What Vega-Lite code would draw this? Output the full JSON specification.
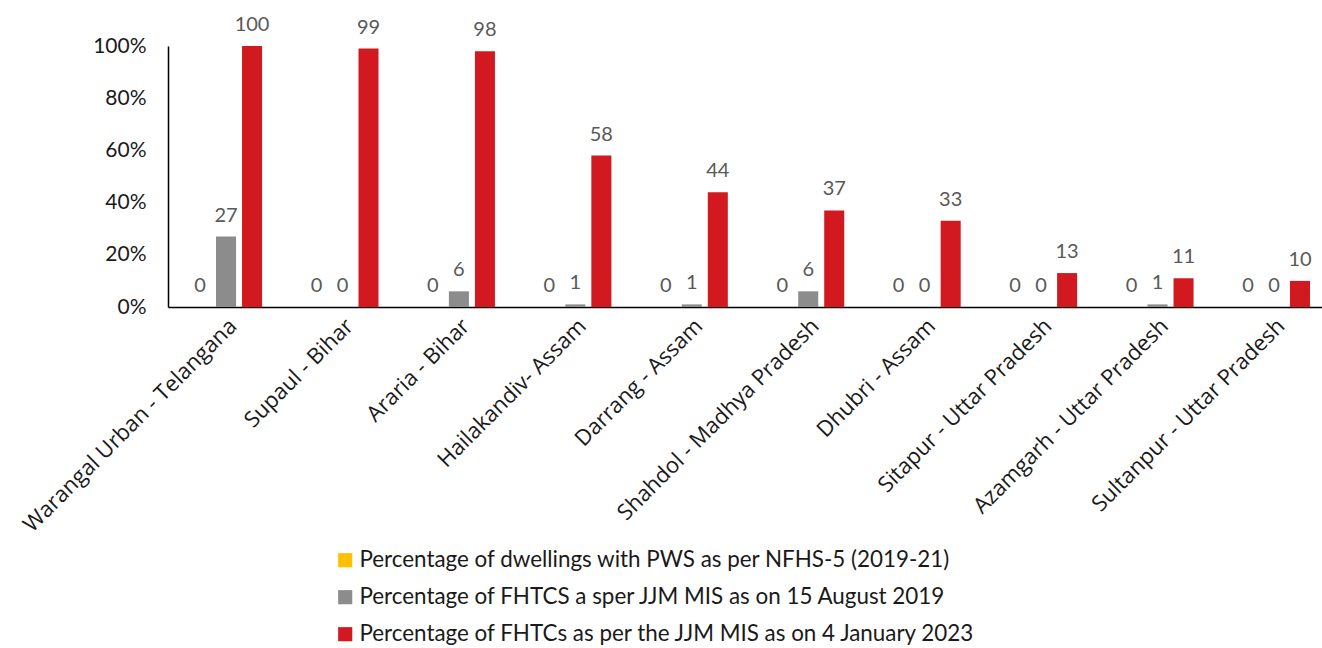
{
  "$schema": "https://vega.github.io/schema/vega-lite/v6.json",
  "autosize": {"type": "none"},
  "width": 1154,
  "height": 261,
  "padding": {"left": 168, "top": 46, "right": 0, "bottom": 341},
  "background": "white",
  "view": {"stroke": null},
  "data": {
    "values": [
      {"district": "Warangal Urban - Telangana", "series": "Percentage of dwellings with PWS as per NFHS-5 (2019-21)", "value": 0},
      {"district": "Warangal Urban - Telangana", "series": "Percentage of FHTCS a sper JJM MIS as on 15 August 2019", "value": 27},
      {"district": "Warangal Urban - Telangana", "series": "Percentage of FHTCs as per the JJM MIS as on 4 January 2023", "value": 100},
      {"district": "Supaul - Bihar", "series": "Percentage of dwellings with PWS as per NFHS-5 (2019-21)", "value": 0},
      {"district": "Supaul - Bihar", "series": "Percentage of FHTCS a sper JJM MIS as on 15 August 2019", "value": 0},
      {"district": "Supaul - Bihar", "series": "Percentage of FHTCs as per the JJM MIS as on 4 January 2023", "value": 99},
      {"district": "Araria - Bihar", "series": "Percentage of dwellings with PWS as per NFHS-5 (2019-21)", "value": 0},
      {"district": "Araria - Bihar", "series": "Percentage of FHTCS a sper JJM MIS as on 15 August 2019", "value": 6},
      {"district": "Araria - Bihar", "series": "Percentage of FHTCs as per the JJM MIS as on 4 January 2023", "value": 98},
      {"district": "Hailakandiv- Assam", "series": "Percentage of dwellings with PWS as per NFHS-5 (2019-21)", "value": 0},
      {"district": "Hailakandiv- Assam", "series": "Percentage of FHTCS a sper JJM MIS as on 15 August 2019", "value": 1},
      {"district": "Hailakandiv- Assam", "series": "Percentage of FHTCs as per the JJM MIS as on 4 January 2023", "value": 58},
      {"district": "Darrang - Assam", "series": "Percentage of dwellings with PWS as per NFHS-5 (2019-21)", "value": 0},
      {"district": "Darrang - Assam", "series": "Percentage of FHTCS a sper JJM MIS as on 15 August 2019", "value": 1},
      {"district": "Darrang - Assam", "series": "Percentage of FHTCs as per the JJM MIS as on 4 January 2023", "value": 44},
      {"district": "Shahdol - Madhya Pradesh", "series": "Percentage of dwellings with PWS as per NFHS-5 (2019-21)", "value": 0},
      {"district": "Shahdol - Madhya Pradesh", "series": "Percentage of FHTCS a sper JJM MIS as on 15 August 2019", "value": 6},
      {"district": "Shahdol - Madhya Pradesh", "series": "Percentage of FHTCs as per the JJM MIS as on 4 January 2023", "value": 37},
      {"district": "Dhubri - Assam", "series": "Percentage of dwellings with PWS as per NFHS-5 (2019-21)", "value": 0},
      {"district": "Dhubri - Assam", "series": "Percentage of FHTCS a sper JJM MIS as on 15 August 2019", "value": 0},
      {"district": "Dhubri - Assam", "series": "Percentage of FHTCs as per the JJM MIS as on 4 January 2023", "value": 33},
      {"district": "Sitapur - Uttar Pradesh", "series": "Percentage of dwellings with PWS as per NFHS-5 (2019-21)", "value": 0},
      {"district": "Sitapur - Uttar Pradesh", "series": "Percentage of FHTCS a sper JJM MIS as on 15 August 2019", "value": 0},
      {"district": "Sitapur - Uttar Pradesh", "series": "Percentage of FHTCs as per the JJM MIS as on 4 January 2023", "value": 13},
      {"district": "Azamgarh - Uttar Pradesh", "series": "Percentage of dwellings with PWS as per NFHS-5 (2019-21)", "value": 0},
      {"district": "Azamgarh - Uttar Pradesh", "series": "Percentage of FHTCS a sper JJM MIS as on 15 August 2019", "value": 1},
      {"district": "Azamgarh - Uttar Pradesh", "series": "Percentage of FHTCs as per the JJM MIS as on 4 January 2023", "value": 11},
      {"district": "Sultanpur - Uttar Pradesh", "series": "Percentage of dwellings with PWS as per NFHS-5 (2019-21)", "value": 0},
      {"district": "Sultanpur - Uttar Pradesh", "series": "Percentage of FHTCS a sper JJM MIS as on 15 August 2019", "value": 0},
      {"district": "Sultanpur - Uttar Pradesh", "series": "Percentage of FHTCs as per the JJM MIS as on 4 January 2023", "value": 10}
    ]
  },
  "encoding": {
    "x": {
      "field": "district",
      "type": "nominal",
      "sort": null,
      "title": null,
      "scale": {"paddingInner": 0.381, "paddingOuter": 0.146, "align": 0.647},
      "axis": {
        "labelAngle": -45,
        "labelFont": "Open Sans",
        "labelFontSize": 22,
        "labelColor": "#1a1a1a",
        "labelPadding": 8,
        "labelLimit": 400,
        "ticks": false,
        "domainColor": "#000000",
        "domainWidth": 1.5,
        "grid": false
      }
    },
    "xOffset": {
      "field": "series",
      "type": "nominal",
      "sort": [
        "Percentage of dwellings with PWS as per NFHS-5 (2019-21)",
        "Percentage of FHTCS a sper JJM MIS as on 15 August 2019",
        "Percentage of FHTCs as per the JJM MIS as on 4 January 2023"
      ],
      "scale": {"paddingInner": 0.23, "paddingOuter": 0}
    },
    "y": {
      "field": "value",
      "type": "quantitative",
      "title": null,
      "scale": {"domain": [0, 100], "nice": false},
      "axis": {
        "values": [0, 20, 40, 60, 80, 100],
        "labelExpr": "datum.value + '%'",
        "labelFont": "Lato",
        "labelFontSize": 21,
        "labelColor": "#1a1a1a",
        "labelPadding": 22,
        "ticks": false,
        "grid": false,
        "domainColor": "#000000",
        "domainWidth": 1.5
      }
    }
  },
  "layer": [
    {
      "mark": {"type": "bar"},
      "encoding": {
        "color": {
          "field": "series",
          "type": "nominal",
          "scale": {
            "domain": [
              "Percentage of dwellings with PWS as per NFHS-5 (2019-21)",
              "Percentage of FHTCS a sper JJM MIS as on 15 August 2019",
              "Percentage of FHTCs as per the JJM MIS as on 4 January 2023"
            ],
            "range": ["#FFC000", "#8C8C8C", "#D2191F"]
          },
          "legend": {
            "title": null,
            "orient": "none",
            "legendX": 166,
            "legendY": 503,
            "direction": "vertical",
            "symbolType": "square",
            "symbolSize": 200,
            "symbolStrokeWidth": 0,
            "labelFont": "Lato",
            "labelFontSize": 22.4,
            "labelColor": "#1a1a1a",
            "labelOffset": 3,
            "labelLimit": 800,
            "rowPadding": 14
          }
        }
      }
    },
    {
      "mark": {"type": "text", "baseline": "alphabetic", "dy": -15, "font": "Lato", "fontSize": 20, "color": "#595959"},
      "encoding": {
        "text": {"field": "value", "type": "quantitative"}
      }
    }
  ]
}
